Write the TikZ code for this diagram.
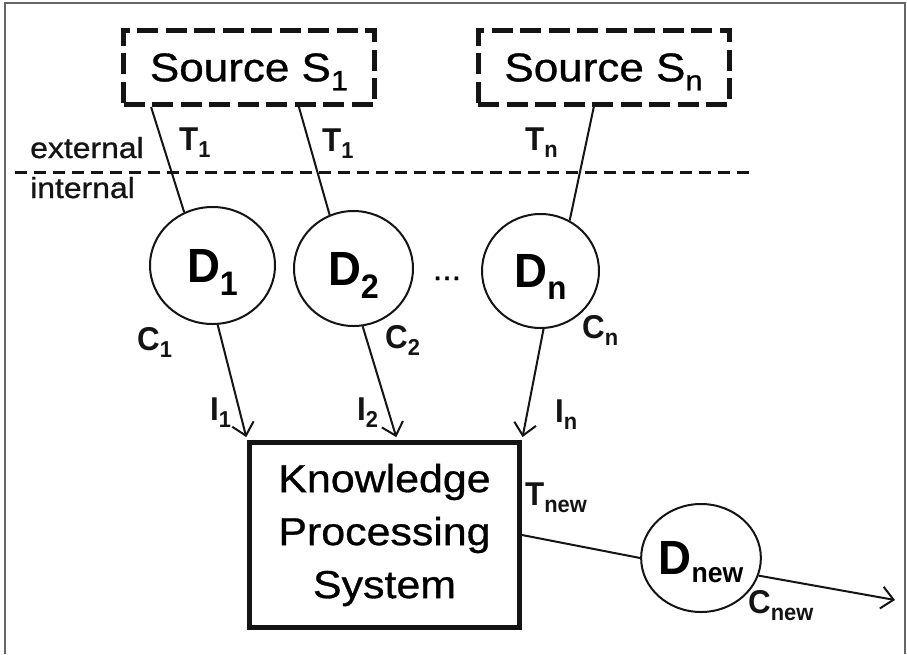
\documentclass[tikz,border=0pt]{standalone}
\usepackage{fontspec}
\setmainfont{Liberation Sans}[FakeStretch=0.95]
\newfontfamily\regf[FakeStretch=1.1,FakeBold=0.8]{Liberation Sans}
\usetikzlibrary{arrows.meta,shapes.geometric,calc}
\newcommand{\lab}[2]{\textbf{#1}\raisebox{-7pt}[0pt][0pt]{\fontsize{23}{23}\selectfont\bfseries #2}}
\newcommand{\dlab}[3]{\textbf{D}\raisebox{-#3}[0pt][0pt]{\fontsize{#2}{#2}\selectfont\bfseries #1}}
\begin{document}
\begin{tikzpicture}[x=1pt,y=-1pt,
  src/.style={draw=black!92,line width=5pt,dash pattern=on 21pt off 7.5pt,minimum width=251pt,minimum height=74pt,inner sep=0pt,font=\regf\fontsize{40}{40}\selectfont},
  dnode/.style={ellipse,draw=black!92,line width=2pt,inner sep=0pt,font=\fontsize{48}{48}\selectfont\bfseries},
  kbox/.style={draw=black!92,line width=5pt,minimum width=270pt,minimum height=185pt,inner sep=0pt,align=center,font=\regf\fontsize{39}{53}\selectfont},
  conn/.style={draw=black!92,line width=2pt},
  arr/.style={conn,-{Straight Barb[length=12pt,width=22pt]}},
  lbl/.style={font=\fontsize{33}{33}\selectfont\bfseries,anchor=base west,inner sep=0pt,text=black!92},
  zone/.style={font=\regf\fontsize{29}{29}\selectfont,anchor=base west,inner sep=0pt,text=black!92}]
\useasboundingbox (0,0) rectangle (907,654);
\fill[white] (0,0) rectangle (907,654);
% frame
\draw[black!60,line width=1.5pt] (5,654) -- (5,3) -- (905,3) -- (905,654);

% sources
\node[src] (s1) at (249,67.5) {Source S\raisebox{-9pt}[0pt][0pt]{\fontsize{28}{28}\selectfont 1}};
\node[src] (sn) at (603.5,67.5) {Source S\raisebox{-9pt}[0pt][0pt]{\fontsize{28}{28}\selectfont n}};

% boundary
\coordinate (bl) at (15,172);
\coordinate (br) at (755,172);
\draw[black!92,line width=3pt,dash pattern=on 12pt off 7pt] (bl) -- (br);
\node[zone] (ext) at (30,158) {external};
\node[zone] (int) at (30,198) {internal};

% data nodes
\node[dnode,minimum width=125pt,minimum height=117pt] (d1) at (212.5,265.5) {\dlab{1}{34}{13pt}};
\node[dnode,minimum width=119pt,minimum height=115pt] (d2) at (353.5,268.5) {\dlab{2}{34}{13pt}};
\node[dnode,minimum width=117pt,minimum height=114pt] (dn) at (540.5,271) {\dlab{n}{33}{12pt}};
\node[font=\regf\fontsize{31}{31}\selectfont,anchor=base,inner sep=0pt] (dots) at (447,280) {...};

% knowledge processing system
\node[kbox] (k) at (384.5,535) {Knowledge\\Processing\\System};
\node[dnode,minimum width=110pt,minimum height=108pt] (dnew) at (701,558) {\dlab{new}{28}{8pt}};
\coordinate (out) at (895,600);

% source connectors
\draw[conn] ($(s1.south west)!0.1175!(s1.south east)$) -- (d1.118);
\draw[conn] ($(s1.south west)!0.695!(s1.south east)$) -- (d2.114);
\draw[conn] ($(sn.south west)!0.462!(sn.south east)$) -- (dn.60);

% input arrows
\draw[arr,shorten >=3pt] (d1.-85) -- (k.north west);
\draw[arr,shorten >=3pt] (d2.-81) -- ($(k.north west)!0.546!(k.north east)$);
\draw[arr,shorten >=3pt] (dn.-87) -- (k.north east);

% output
\draw[conn] (k.east) -- (dnew.180);
\draw[arr] (dnew.-17) -- (out);

% labels
\node[lbl] (t1a) at (179,150) {\lab{T}{1}};
\node[lbl] (t1b) at (322,151) {\lab{T}{1}};
\node[lbl] (tn) at (525,150) {\lab{T}{n}};
\node[lbl] (c1) at (137,350) {\lab{C}{1}};
\node[lbl] (c2) at (385,348) {\lab{C}{2}};
\node[lbl] (cn) at (582,338) {\lab{C}{n}};
\node[lbl] (i1) at (210,420) {\lab{I}{1}};
\node[lbl] (i2) at (357,420) {\lab{I}{2}};
\node[lbl] (in) at (555,422) {\lab{I}{n}};
\node[lbl] (tnew) at (525,505) {\lab{T}{new}};
\node[lbl] (cnew) at (748,613) {\lab{C}{new}};
\end{tikzpicture}
\end{document}
